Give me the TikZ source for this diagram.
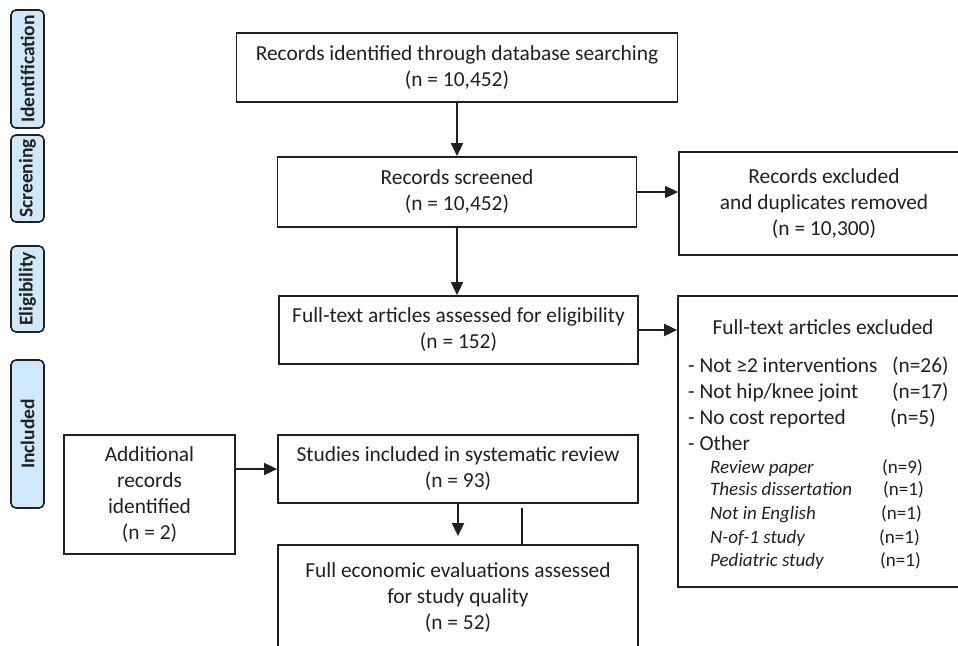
\documentclass[tikz,border=0pt]{standalone}
\usepackage{fontspec}
\setmainfont{Carlito}
\usetikzlibrary{arrows.meta}
\definecolor{ink}{HTML}{231F20}
\definecolor{phasefill}{HTML}{CFE9FB}
\begin{document}
\begin{tikzpicture}[x=1pt,y=-1pt,
  box/.style={draw=ink, line width=1.8pt, inner sep=0pt, align=center, font=\fontsize{21.4}{26}\selectfont, text=ink},
  phase/.style={draw=ink, line width=1.6pt, fill=phasefill, rounded corners=5pt, inner sep=0pt, minimum height=33pt, rotate=90, font=\bfseries\fontsize{19.5}{20}\selectfont, text=ink},
  arr/.style={draw=ink, line width=1.7pt, -{Triangle[length=13pt,width=12pt]}},
  ln/.style={draw=ink, line width=1.7pt},
  lst/.style={anchor=base west, inner sep=0pt, font=\fontsize{21.3}{22}\selectfont, text=ink},
  ilst/.style={anchor=base west, inner sep=0pt, font=\itshape\fontsize{19}{20}\selectfont, text=ink},
  nlst/.style={anchor=base west, inner sep=0pt, font=\fontsize{19}{20}\selectfont, text=ink}
]
\useasboundingbox (0,0) rectangle (958,645);
\begin{scope}
\clip (0,0) rectangle (958,645);
% phase labels
\node[phase, minimum width=118pt] (pid) at (27.5,69) {Identification};
\node[phase, minimum width=87pt] (psc) at (27.5,178.5) {Screening};
\node[phase, minimum width=86pt] (pel) at (27.5,289) {Eligibility};
\node[phase, minimum width=148pt] (pin) at (27.5,434) {Included};
% main boxes
\node[box, minimum width=441pt, minimum height=69pt] (b1) at (457,67.5) {Records identified through database searching\\(n = 10,452)};
\node[box, minimum width=359pt, minimum height=70pt] (b2) at (457,192) {Records screened\\(n = 10,452)};
\node[box, minimum width=359pt, minimum height=68pt] (b3) at (458.5,330) {Full-text articles assessed for eligibility\\(n = 152)};
\node[box, minimum width=360pt, minimum height=68pt] (st) at (458,469) {Studies included in systematic review\\(n = 93)};
\node[box, minimum width=360pt, minimum height=106pt] (fe) at (458,598) {Full economic evaluations assessed\\for study quality\\(n = 52)};
\node[box, minimum width=171pt, minimum height=119pt] (ad) at (149.5,494.5) {Additional\\records\\identified\\(n = 2)};
\node[box, minimum width=290pt, minimum height=103pt] (ex) at (824,203.5) {Records excluded\\and duplicates removed\\(n = 10,300)};
\node[box, minimum width=291pt, minimum height=291pt] (fx) at (823.5,441.5) {};
% excluded list
\node[anchor=base, inner sep=0pt, font=\fontsize{21.4}{22}\selectfont, text=ink] (fxt) at (823,334) {Full-text articles excluded};
\node[lst] (l1) at (688,372) {- Not ≥2 interventions};
\node[lst] (l1n) at (892,372) {(n=26)};
\node[lst] (l2) at (688,398) {- Not hip/knee joint};
\node[lst] (l2n) at (892,398) {(n=17)};
\node[lst] (l3) at (688,424) {- No cost reported};
\node[lst] (l3n) at (890,424) {(n=5)};
\node[lst] (l4) at (688,450) {- Other};
\node[ilst] (i1) at (710,473.5) {Review paper};
\node[nlst] (i1n) at (882,473.5) {(n=9)};
\node[ilst] (i2) at (710,495.5) {Thesis dissertation};
\node[nlst] (i2n) at (883,495.5) {(n=1)};
\node[ilst] (i3) at (710,519.5) {Not in English};
\node[nlst] (i3n) at (881,519.5) {(n=1)};
\node[ilst] (i4) at (710,543.5) {N-of-1 study};
\node[nlst] (i4n) at (879,543.5) {(n=1)};
\node[ilst] (i5) at (710,566.5) {Pediatric study};
\node[nlst] (i5n) at (880,566.5) {(n=1)};
\end{scope}
% connectors
\coordinate (c2s) at (b2.south);
\coordinate (c3n) at (c2s |- b3.north);
\draw[arr] (b1.south) -- (b1.south |- b2.north);
\draw[arr] (c2s) -- (c3n);
\coordinate (c2e) at (b2.east);
\coordinate (cxw) at (c2e -| ex.west);
\draw[arr] (c2e) -- (cxw);
\draw[arr] (b3.east) -- (b3.east -| fx.west);
\draw[arr] (ad.east |- st.west) -- (st.west);
\draw[arr] (st.south) -- ([yshift=8pt]st.south |- fe.north);
\coordinate (lnA) at ([xshift=64pt,yshift=-4pt]st.south);
\draw[ln] (lnA) -- (lnA |- fe.north);
\end{tikzpicture}
\end{document}
